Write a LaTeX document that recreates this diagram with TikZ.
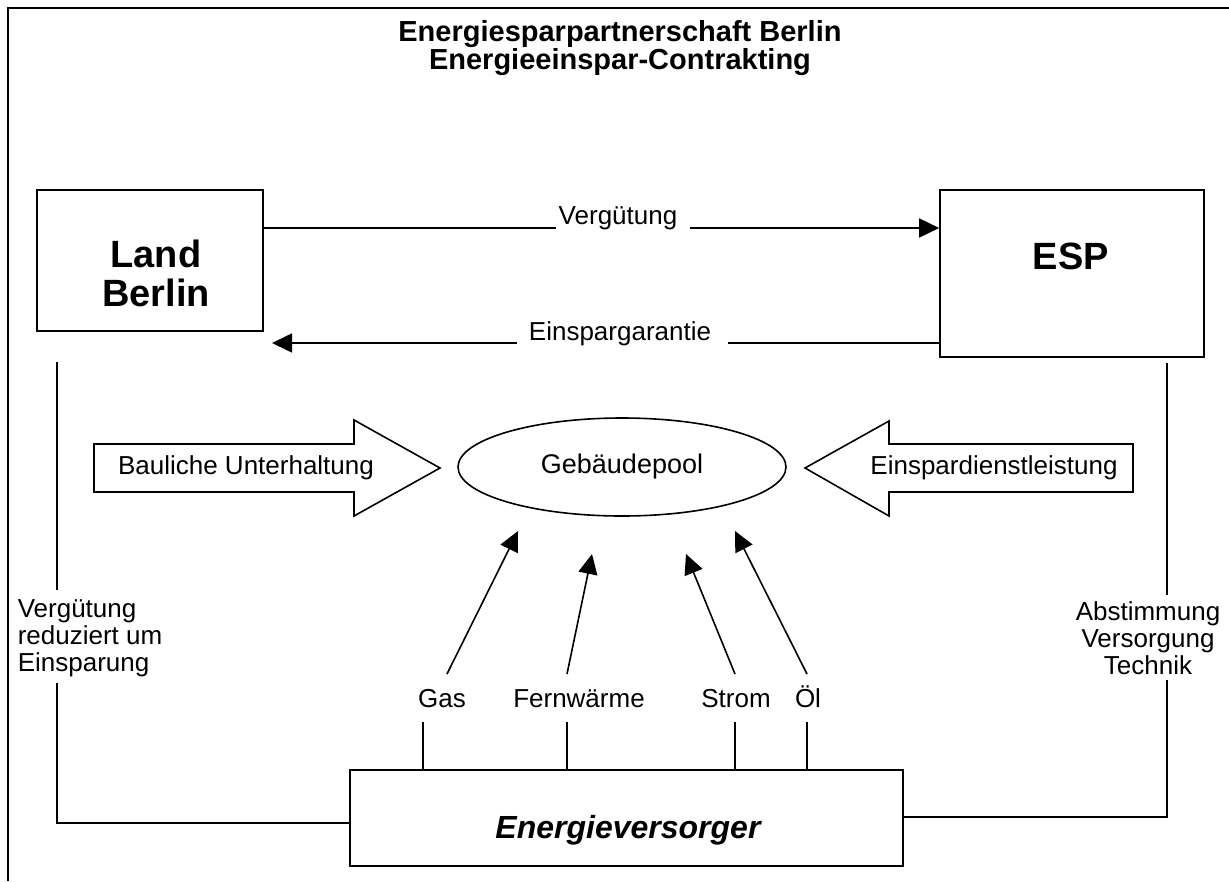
\documentclass[tikz,border=0pt]{standalone}
\usepackage{fontspec}
\setmainfont{Liberation Sans}
\usetikzlibrary{arrows.meta,shapes.geometric}
\begin{document}
\begin{tikzpicture}[x=1pt,y=-1pt,line width=1.6pt,
  >={Triangle[length=20pt,width=19pt]},
  txt/.style={font=\fontsize{26}{27}\selectfont,inner sep=0pt},
  bigtxt/.style={font=\bfseries\fontsize{38}{39}\selectfont,inner sep=0pt,align=center},
  boxnode/.style={draw,inner sep=0pt,line width=1.6pt},
  blockarrow/.style={draw,line width=1.6pt,line join=miter,fill=white}]
\useasboundingbox (0,0) rectangle (1229,881);
% frame
\draw[line width=2.6pt] (1229,8) -- (8,8) -- (8,881);
% title
\node[font=\bfseries\fontsize{29}{26}\selectfont,align=center,inner sep=0pt] (title) at (620,48)
  {Energiesparpartnerschaft Berlin\\Energieeinspar-Contrakting};
% boxes
\node[boxnode,minimum width=226pt,minimum height=141pt] (land) at (150,260.5) {};
\node[bigtxt] (landtxt) at (156,273) {Land\\Berlin};
\node[boxnode,minimum width=264pt,minimum height=167pt] (esp) at (1072,273.5) {};
\node[bigtxt] (esptxt) at (1071,256) {ESP};
\node[boxnode,minimum width=553pt,minimum height=96pt] (ev) at (626.5,818) {};
\node[font=\bfseries\itshape\fontsize{32}{33}\selectfont,inner sep=0pt] (evtxt) at (628,830) {Energieversorger};
\node[draw,ellipse,minimum width=328pt,minimum height=98pt,inner sep=0pt,font=\fontsize{27}{28}\selectfont] (pool) at (622,467) {Gebäudepool};
% Vergütung / Einspargarantie
\node[txt] (verg) at (618,218) {Vergütung};
\coordinate (v1) at (556,228);
\coordinate (v2) at (690,228);
\draw (land.east |- v1) -- (v1);
\draw[->] (v2) -- (esp.west |- v2);
\node[txt] (eg) at (620,334) {Einspargarantie};
\coordinate (e1) at (728,343);
\coordinate (e2) at (517,343);
\coordinate (etip) at (272,343);
\draw (esp.west |- e1) -- (e1);
\draw[->] (e2) -- (etip);
% block arrows
\draw[blockarrow] (94,444) -- (354,444) -- (354,420) -- (440,468) -- (354,516) -- (354,492) -- (94,492) -- cycle;
\node[txt] (bau) at (246,468) {Bauliche Unterhaltung};
\draw[blockarrow] (1133,444) -- (889,444) -- (889,421) -- (805,468) -- (889,516) -- (889,492) -- (1133,492) -- cycle;
\node[txt] (esd) at (994,468) {Einspardienstleistung};
% left connection
\coordinate (l1) at (57,362);
\coordinate (l2) at (57,590);
\coordinate (l3) at (57,683);
\coordinate (l4) at (57,823);
\draw (l1) -- (l2);
\draw (l3) -- (l4) -- (ev.west |- l4);
\node[txt,align=left,anchor=west] (lefttxt) at (17,638) {Vergütung\\reduziert um\\Einsparung};
% right connection
\coordinate (r1) at (1167,363);
\coordinate (r2) at (1167,595);
\coordinate (r3) at (1167,680);
\coordinate (r4) at (1167,817);
\draw (r1) -- (r2);
\draw (r3) -- (r4) -- (ev.east |- r4);
\node[txt,align=center] (righttxt) at (1148,638) {Abstimmung\\Versorgung\\Technik};
% energy carriers
\node[txt] (gas) at (442,699) {Gas};
\node[txt] (fw) at (579,699) {Fernwärme};
\node[txt] (strom) at (736,699) {Strom};
\node[txt] (oel) at (808,697) {Öl};
\coordinate (ga) at (447,674); \coordinate (gt) at (518,531);
\coordinate (fa) at (567,674); \coordinate (ft) at (592,554);
\coordinate (sa) at (735,674); \coordinate (st) at (686,554);
\coordinate (oa) at (807,674); \coordinate (ot) at (735,531);
\draw[->] (ga) -- (gt);
\draw[->] (fa) -- (ft);
\draw[->] (sa) -- (st);
\draw[->] (oa) -- (ot);
\coordinate (gk) at (423,722);
\coordinate (fk) at (567,722);
\coordinate (sk) at (735,722);
\coordinate (ok) at (807,722);
\draw (gk) -- (ev.north -| gk);
\draw (fk) -- (ev.north -| fk);
\draw (sk) -- (ev.north -| sk);
\draw (ok) -- (ev.north -| ok);
\end{tikzpicture}
\end{document}
